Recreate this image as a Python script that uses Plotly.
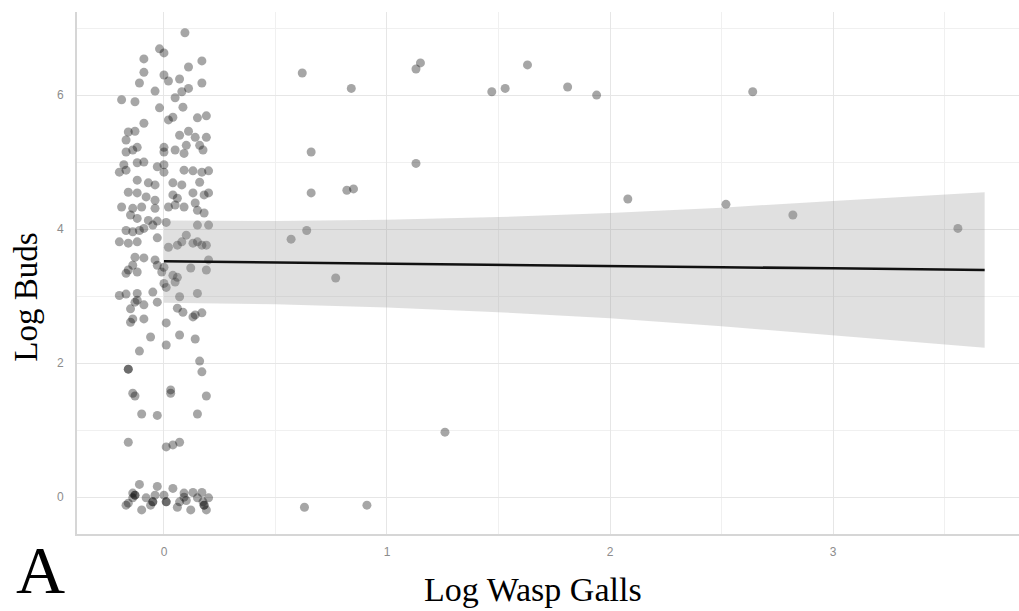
import plotly.graph_objects as go

# Jittered observations (Log Wasp Galls, Log Buds)
galls_x = [
    0.094, -0.02, 0.0, -0.09, 0.17, 0.11, -0.09, 0.0, 0.02, 0.07, -0.11, 0.17, 0.11, 0.08, -0.04,
    -0.19, -0.13, 0.05, 0.085, -0.02, 0.04, 0.02, 0.15, 0.19, -0.09, -0.16, -0.13, 0.11, 0.07, 0.14,
    -0.17, 0.19, -0.12, 0.0, 0.1, 0.16,
    -0.17, -0.14, 0.0, 0.05, 0.09, 0.175,
    -0.18, -0.17, -0.2, -0.12, -0.09, -0.03, 0.0, 0.0,
    0.09, 0.13, 0.17, 0.2,
    -0.12, -0.07, -0.04, 0.04, 0.08, 0.16,
    -0.16, -0.12, -0.08, -0.04, 0.04, 0.06, 0.13, 0.18, 0.2,
    -0.19, -0.14, -0.1, -0.04, 0.02, 0.05, 0.09, 0.14, 0.15, 0.18,
    -0.15, -0.12, -0.07, -0.03, 0.01,
    -0.17, -0.14, -0.11, -0.09, -0.05, 0.15, 0.2,
    -0.2, -0.16, -0.12, -0.03, 0.02, 0.06, 0.08, 0.1, 0.13, 0.15, 0.17, 0.19,
    -0.13, -0.09, -0.04, -0.14, -0.16, -0.12, -0.03, 0.0, 0.2, 0.19, 0.12,
    -0.17, -0.01, 0.04, 0.06, 0.0, 0.01, 0.05, -0.2, -0.17, -0.12, -0.12, -0.13, -0.05, -0.03,
    0.07, 0.15, -0.09, -0.15, 0.06, 0.085, 0.14, 0.17, 0.13, -0.15, -0.14, -0.09, 0.01,
    -0.06, 0.07, 0.14, 0.01, -0.11, 0.16, -0.16, -0.16, 0.17, -0.14, -0.13, 0.03, 0.03, 0.19,
    -0.1, -0.03, 0.15, -0.16, 0.01, 0.04, 0.07,
    -0.11, -0.03, 0.04, 0.09, 0.13, 0.17, -0.14, -0.13, -0.14, -0.16, -0.17, -0.1, -0.05, -0.06,
    -0.04, 0.01, 0.0, 0.06, 0.07, 0.1, 0.09, 0.12, 0.175, 0.18, 0.2, 0.19, 0.15, -0.08,
    -0.13, -0.05, 0.18, 0.01,
    0.62, 0.84, 1.13, 1.15, 1.47, 1.53, 1.63, 1.81, 1.94, 2.64, 0.66, 1.13, 0.66, 0.82, 0.85,
    2.08, 2.52, 0.57, 0.64, 0.77, 2.82, 3.56, 1.26, 0.63, 0.91,
]
buds_y = [
    6.93, 6.69, 6.63, 6.54, 6.51, 6.42, 6.34, 6.30, 6.21, 6.24, 6.18, 6.18, 6.10, 6.05, 6.06,
    5.93, 5.90, 5.96, 5.82, 5.81, 5.67, 5.63, 5.66, 5.69, 5.58, 5.45, 5.46, 5.46, 5.40, 5.37,
    5.33, 5.37, 5.22, 5.22, 5.25, 5.25,
    5.15, 5.18, 5.15, 5.18, 5.13, 5.18,
    4.96, 4.88, 4.85, 4.99, 5.00, 4.93, 4.85, 4.96,
    4.88, 4.87, 4.85, 4.87,
    4.73, 4.69, 4.66, 4.69, 4.66, 4.70,
    4.55, 4.54, 4.48, 4.43, 4.51, 4.46, 4.54, 4.51, 4.54,
    4.33, 4.31, 4.33, 4.31, 4.33, 4.36, 4.33, 4.39, 4.28, 4.24,
    4.21, 4.16, 4.13, 4.12, 4.10,
    3.98, 3.96, 3.98, 4.01, 4.06, 4.06, 4.06,
    3.81, 3.79, 3.81, 3.87, 3.73, 3.76, 3.81, 3.91, 3.79, 3.81, 3.76, 3.76,
    3.58, 3.57, 3.54, 3.46, 3.39, 3.36, 3.46, 3.43, 3.54, 3.39, 3.42,
    3.34, 3.36, 3.31, 3.28, 3.19, 3.13, 3.21, 3.01, 3.03, 3.04, 2.94, 2.91, 3.06, 2.91,
    2.99, 3.04, 2.87, 2.81, 2.82, 2.76, 2.72, 2.75, 2.69, 2.61, 2.66, 2.66, 2.60,
    2.39, 2.42, 2.36, 2.27, 2.18, 2.03, 1.91, 1.91, 1.87, 1.55, 1.51, 1.60, 1.55, 1.51,
    1.24, 1.22, 1.24, 0.82, 0.75, 0.78, 0.82,
    0.19, 0.16, 0.13, 0.06, 0.07, 0.07, 0.06, 0.03, -0.01, -0.09, -0.12, -0.19, -0.07, -0.12,
    0.03, -0.07, 0.03, -0.15, -0.07, -0.05, 0.00, -0.19, -0.07, -0.12, -0.01, -0.19, -0.01, -0.01,
    0.03, -0.07, -0.12, -0.07,
    6.33, 6.10, 6.39, 6.48, 6.05, 6.10, 6.45, 6.12, 6.00, 6.05, 5.15, 4.98, 4.54, 4.58, 4.60,
    4.45, 4.37, 3.85, 3.98, 3.27, 4.21, 4.01, 0.97, -0.15, -0.12,
]

# Linear fit and its confidence band
fit_x = [0.0, 0.5, 1.0, 1.5, 2.0, 2.5, 3.0, 3.68]
fit_y = [3.52, 3.50, 3.485, 3.47, 3.45, 3.43, 3.415, 3.39]
band_upper = [4.13, 4.12, 4.14, 4.18, 4.24, 4.32, 4.42, 4.55]
band_lower = [2.90, 2.88, 2.83, 2.76, 2.67, 2.55, 2.41, 2.23]

x_ticks = [0, 1, 2, 3]
y_ticks = [0, 2, 4, 6]

fig = go.Figure()

fig.add_trace(go.Scatter(
    x=galls_x, y=buds_y, mode="markers",
    marker=dict(size=9, color="rgba(0,0,0,0.35)", line=dict(width=0)),
    hoverinfo="skip", showlegend=False,
))

fig.add_trace(go.Scatter(
    x=fit_x + fit_x[::-1], y=band_upper + band_lower[::-1],
    fill="toself", fillcolor="rgba(153,153,153,0.3)",
    line=dict(width=0), mode="lines", hoverinfo="skip", showlegend=False,
))

fig.add_trace(go.Scatter(
    x=fit_x, y=fit_y, mode="lines",
    line=dict(color="#111111", width=2.6), hoverinfo="skip", showlegend=False,
))

grid_c = "#e6e6e6"
axis_c = "#d6d6d6"
tick_font = dict(family="Liberation Sans, Arial, sans-serif", size=12, color="#8c8c8c")
serif = "Liberation Serif, Times New Roman, serif"

fig.update_layout(
    width=1019, height=611,
    margin=dict(l=77, r=0, t=12, b=77),
    paper_bgcolor="white", plot_bgcolor="white",
    xaxis=dict(
        range=[-0.39, 3.834], tickvals=x_ticks, ticktext=[str(v) for v in x_ticks],
        showgrid=True, gridcolor=grid_c, gridwidth=1.3,
        minor=dict(dtick=0.5, tick0=0, showgrid=True, gridcolor="#f0f0f0", gridwidth=1),
        showline=True, linecolor=axis_c, linewidth=2,
        zeroline=False, ticks="", tickfont=tick_font, ticklabelstandoff=6,
    ),
    yaxis=dict(
        range=[-0.55, 7.24], tickvals=y_ticks, ticktext=[str(v) for v in y_ticks],
        showgrid=True, gridcolor=grid_c, gridwidth=1.3,
        minor=dict(dtick=1, tick0=0, showgrid=True, gridcolor="#f0f0f0", gridwidth=1),
        showline=True, linecolor=axis_c, linewidth=2,
        zeroline=False, ticks="", tickfont=tick_font, ticklabelstandoff=9,
    ),
    annotations=[
        dict(text="Log Wasp Galls", xref="paper", yref="paper", x=0.484, y=-0.107,
             xanchor="center", yanchor="middle", showarrow=False,
             font=dict(family=serif, size=34, color="black")),
        dict(text="Log Buds", xref="paper", yref="paper", x=-0.055, y=0.453,
             xanchor="center", yanchor="middle", showarrow=False, textangle=-90,
             font=dict(family=serif, size=33, color="black")),
        dict(text="A", xref="paper", yref="paper", x=-0.039, y=-0.1465,
             xanchor="center", yanchor="bottom", showarrow=False,
             font=dict(family=serif, size=68, color="black")),
    ],
)

fig.write_html("out.html")
